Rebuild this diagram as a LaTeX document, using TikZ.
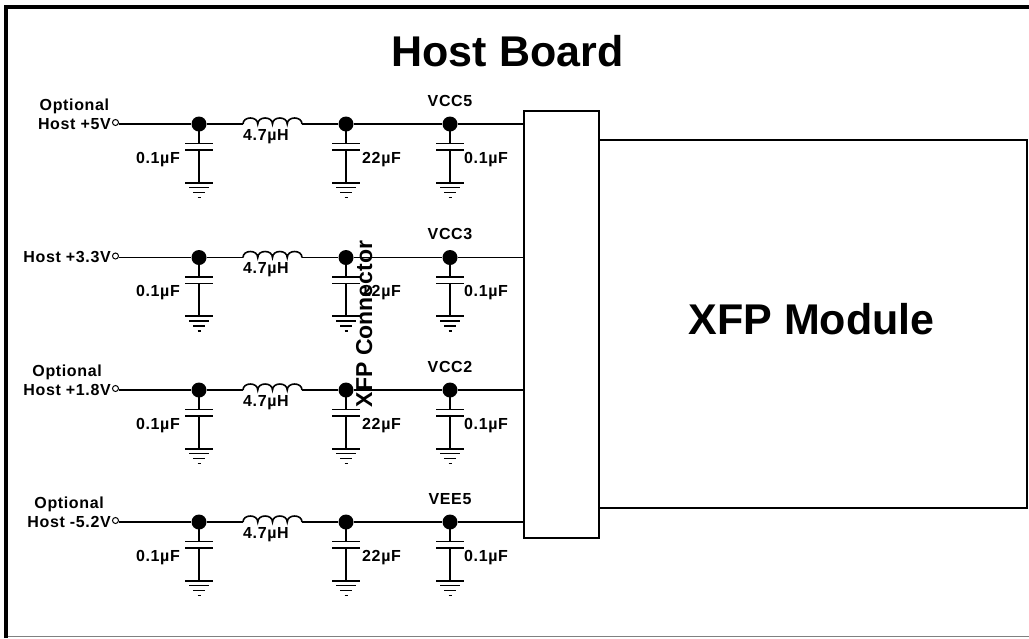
\documentclass[tikz,border=0pt]{standalone}
\usepackage{fontspec}
\setmainfont{Liberation Sans}
\newfontfamily\lblfont[LetterSpace=4]{Liberation Sans}
\usetikzlibrary{calc}
\tikzset{
  wire/.style={line width=1.6pt},
  lbl/.style={font=\lblfont\bfseries\fontsize{16}{19}\selectfont, inner sep=0pt},
  bigtxt/.style={font=\bfseries\fontsize{43}{50}\selectfont, inner sep=0pt},
  midtxt/.style={font=\bfseries\fontsize{23}{28}\selectfont, inner sep=0pt},
  dotnode/.style={circle, fill=black, inner sep=0pt, minimum size=15pt},
  term/.style={circle, draw, line width=1pt, inner sep=0pt, minimum size=6pt, fill=white},
  boxnode/.style={draw, line width=1.6pt, inner sep=0pt},
  pics/capgnd/.style={code={
    \draw[wire] (0,0) -- (0,19.5);
    \draw[wire] (-14,19.5) -- (14,19.5);
    \draw[wire] (-14,26) -- (14,26);
    \draw[wire] (0,26) -- (0,58.7);
    \draw[wire] (-14,58.7) -- (14,58.7);
    \draw[wire] (-10,63.5) -- (10,63.5);
    \draw[wire] (-6,68.3) -- (6,68.3);
    \draw[wire] (-1.5,73.3) -- (1.5,73.3);
  }},
  pics/coil/.style={code={
    \draw[wire] (0,0) .. controls (0,-8) and (14.75,-8) .. (14.75,0)
      .. controls (14.75,-8) and (29.5,-8) .. (29.5,0)
      .. controls (29.5,-8) and (44.25,-8) .. (44.25,0)
      .. controls (44.25,-8) and (59,-8) .. (59,0);
  }},
}
\begin{document}
\begin{tikzpicture}[x=1pt,y=-1pt]
\useasboundingbox (0,0) rectangle (1029,638);
% frame
\draw[line width=1.5pt, gray] (6,636.5) -- (1029,636.5);
\draw[line width=4pt] (6,638) -- (6,7) -- (1029,7);
% title
\node[bigtxt, anchor=base] (title) at (507.5,66.7) {Host Board};
% connector and module
\node[boxnode, minimum width=75pt, minimum height=427pt] (conn) at (561.5,324.5) {};
\node[boxnode, minimum width=428pt, minimum height=368pt] (mod) at (813,324) {};
\node[bigtxt, anchor=base] (modlbl) at (811.5,334.3) {XFP Module};
\node[midtxt, rotate=90, anchor=base] (connlbl) at (372,324) {XFP Connector};
% rows
\foreach \i/\y/\opt/\host/\vcc/\cb in {1/124/1/Host +5V/VCC5/22, 2/257.5/0/Host +3.3V/VCC3/22, 3/390/1/Host +1.8V/VCC2/22, 4/522/1/Host -5.2V/VEE5/22}{
  \node[term] (t\i) at (115.5,\y-1.5) {};
  \node[lbl, anchor=base east] (h\i) at (111,\y+5) {\host};
  \ifnum\opt=1
    \node[lbl, anchor=base] (o\i) at ([yshift=18.5pt]h\i.base) {Optional};
  \fi
  \pic at (199,\y) {capgnd};
  \pic at (346,\y) {capgnd};
  \pic at (450,\y) {capgnd};
  \node[dotnode] (a\i) at (199,\y) {};
  \node[dotnode] (b\i) at (346,\y) {};
  \node[dotnode] (c\i) at (450,\y) {};
  \coordinate (l\i) at (243,\y);
  \coordinate (r\i) at (302,\y);
  \pic at (l\i) {coil};
  \draw[wire] (t\i.east |- a\i) -- (a\i);
  \draw[wire] (a\i) -- (l\i);
  \draw[wire] (r\i) -- (b\i) -- (c\i) -- (c\i -| conn.west);
  \node[lbl, anchor=base west] (ind\i) at ($(l\i)+(0,16)$) {4.7µH};
  \node[lbl, anchor=base east] (ca\i) at ($(a\i)+(-19,39)$) {0.1µF};
  \node[lbl, anchor=base west] (cb\i) at ($(b\i)+(16,39)$) {\cb µF};
  \node[lbl, anchor=base west] (cc\i) at ($(c\i)+(14,39)$) {0.1µF};
  \node[lbl, anchor=base] (v\i) at ($(c\i)+(0,-18)$) {\vcc};
}
\end{tikzpicture}
\end{document}
